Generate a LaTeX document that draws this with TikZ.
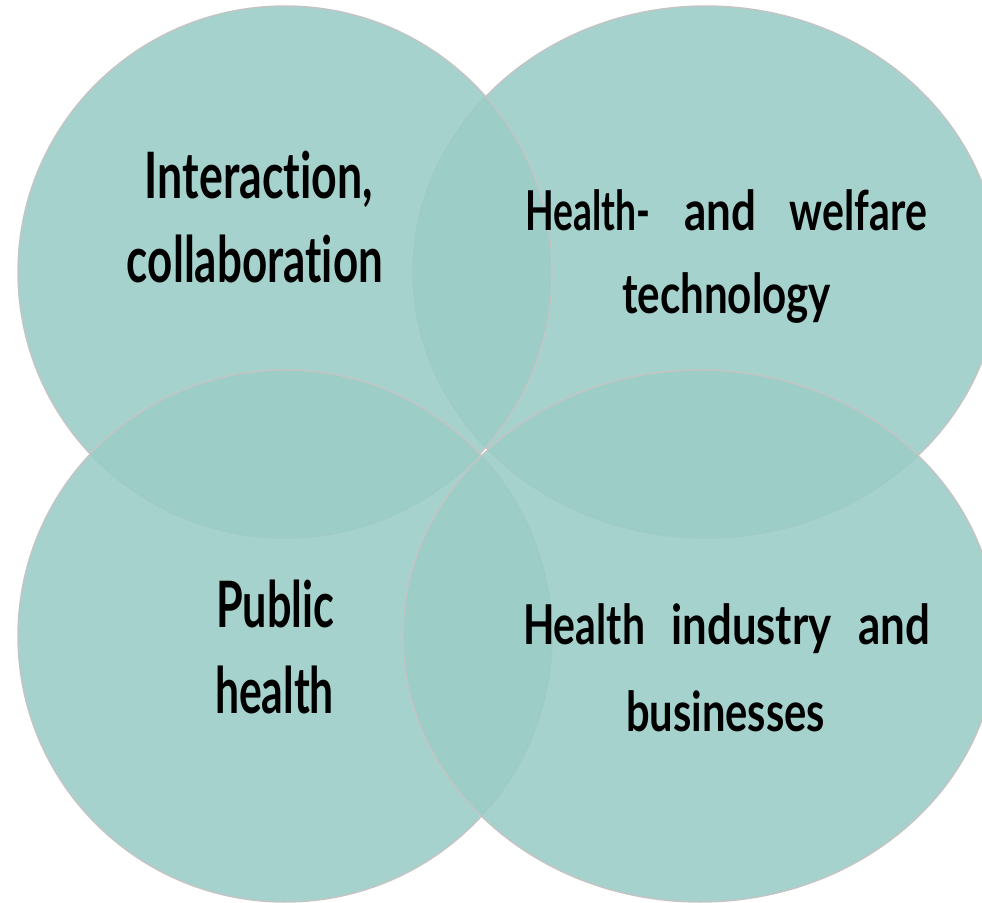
\documentclass[tikz,border=0pt]{standalone}
\usepackage{fontspec}
\setmainfont{Lato}[Ligatures={NoCommon}]
\usepackage{graphicx}
\definecolor{venn}{RGB}{154,204,198}
\definecolor{vennline}{RGB}{196,196,196}
\newcommand\fw[2]{\resizebox{#1}{\height}{#2}}
\tikzset{
  vset/.style={fill=venn, fill opacity=0.88, draw=vennline, draw opacity=1, line width=1.4pt},
  bigtxt/.style={anchor=base, inner sep=0pt, font=\fontsize{64}{70}\selectfont\bfseries},
  smalltxt/.style={anchor=base, inner sep=0pt, font=\fontsize{55}{60}\selectfont\bfseries}
}
\begin{document}
\begin{tikzpicture}[x=1pt,y=-1pt]
\useasboundingbox (0,0) rectangle (982,902);
% circles (order: top-right, top-left, bottom-left, bottom-right)
\path[vset] (706,272) ellipse [x radius=293, y radius=266];
\path[vset] (285,272) ellipse [x radius=267, y radius=266];
\path[vset] (285,636) ellipse [x radius=267, y radius=266];
\path[vset] (700,636) ellipse [x radius=297, y radius=266];
% texts
\node[bigtxt] (tl1) at (259,198.5) {\fw{228pt}{Interaction,}};
\node[bigtxt] (tl2) at (255,282) {\fw{256pt}{collaboration}};
\node[smalltxt] (tr1) at (726,230) {\hbox to 402pt{\fw{125pt}{Health-}\hfill\fw{72pt}{and}\hfill\fw{137pt}{welfare}}};
\node[smalltxt] (tr2) at (726.5,313.5) {\fw{209pt}{technology}};
\node[bigtxt] (bl1) at (275,627) {\fw{118pt}{Public}};
\node[bigtxt] (bl2) at (274.5,713) {\fw{119pt}{health}};
\node[smalltxt] (br1) at (726.5,644) {\hbox to 407pt{\fw{122pt}{Health}\hfill\fw{160pt}{industry}\hfill\fw{72pt}{and}}};
\node[smalltxt] (br2) at (725.5,731) {\fw{199pt}{businesses}};
\end{tikzpicture}
\end{document}
